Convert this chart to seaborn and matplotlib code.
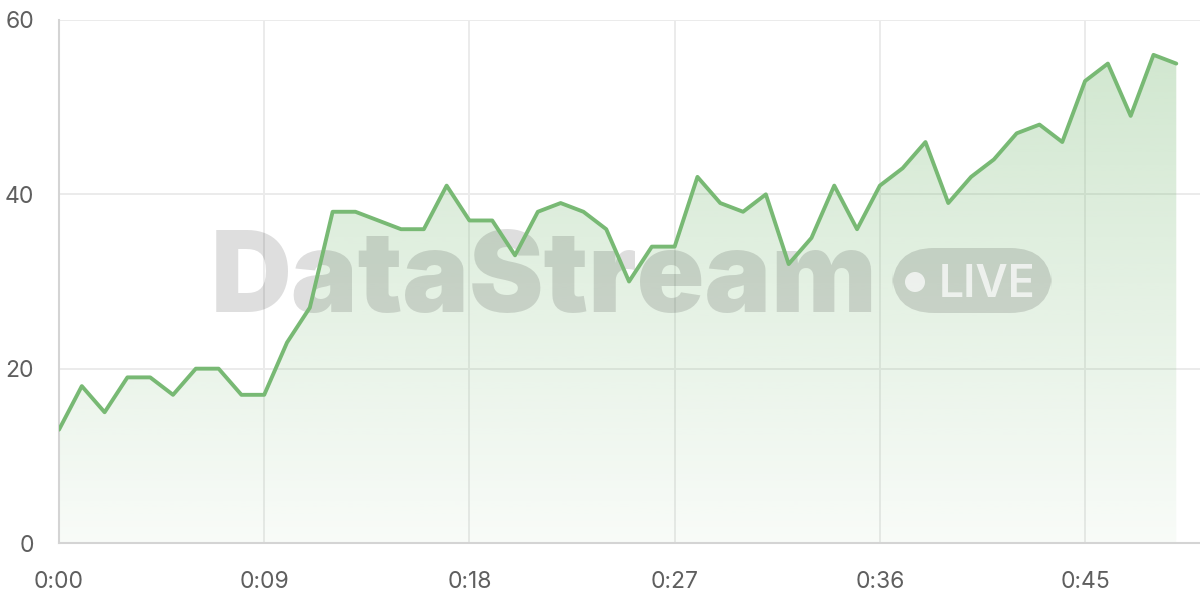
import numpy as np
import pandas as pd
import matplotlib
matplotlib.use("Agg")
import matplotlib.pyplot as plt
from matplotlib.patches import FancyBboxPatch, Circle
import seaborn as sns

# data: one reading per second
seconds = list(range(50))
values = [13, 18, 15, 19, 19, 17, 20, 20, 17, 17,
          23, 27, 38, 38, 37, 36, 36, 41, 37, 37,
          33, 38, 39, 38, 36, 30, 34, 34, 42, 39,
          38, 40, 32, 35, 41, 36, 41, 43, 46, 39,
          42, 44, 47, 48, 46, 53, 55, 49, 56, 55]
x_ticks = [0, 9, 18, 27, 36, 45]
x_tick_labels = ["0:00", "0:09", "0:18", "0:27", "0:36", "0:45"]
y_ticks = [0, 20, 40, 60]

line_color = "#78b974"
grid_color = "#ebebeb"
spine_color = "#d4d4d4"
text_color = "#5f5f5f"

sns.set_style("white")
plt.rcParams["font.family"] = ["Inter", "DejaVu Sans"]

df = pd.DataFrame({"t": seconds, "v": values})

W, H = 1200, 600
fig = plt.figure(figsize=(12, 6), dpi=100)
ax = fig.add_axes([59 / W, 57 / H, 1141 / W, 523 / H])

ax.set_xlim(0, 50.04)
ax.set_ylim(0, 60)

# gradient fill under the line
fill = ax.fill_between(df["t"], df["v"], 0, color="none", lw=0)
grad = np.linspace(0.05, 0.36, 256).reshape(-1, 1)
rgba = np.zeros((256, 1, 4))
rgba[..., :3] = matplotlib.colors.to_rgb(line_color)
rgba[..., 3] = grad
img = ax.imshow(rgba, extent=[0, 50.04, 0, 60], origin="lower",
                aspect="auto", zorder=1, interpolation="bilinear")
img.set_clip_path(fill.get_paths()[0], transform=ax.transData)

sns.lineplot(data=df, x="t", y="v", ax=ax, color=line_color,
             linewidth=2.8, zorder=4)

# watermark
wm = dict(transform=fig.transFigure, zorder=3, clip_on=False)
ax.text(211 / W, 1 - 312 / H, "DataStream", fontsize=80.5, fontweight="black",
        color="black", alpha=0.13, ha="left", va="baseline", **wm)
badge = FancyBboxPatch((892 / W, 1 - 313 / H), 160 / W, 65 / H,
                       boxstyle="round,pad=0,rounding_size=0.035",
                       transform=fig.transFigure, facecolor="black",
                       alpha=0.13, edgecolor="none", zorder=3, clip_on=False,
                       mutation_aspect=2.0)
ax.add_artist(badge)
ax.add_artist(Circle((915, H - 282), 10, transform=None, facecolor="white",
                     alpha=0.7, edgecolor="none", zorder=3, clip_on=False))
ax.text(939 / W, 1 - 297 / H, "LIVE", fontsize=32, fontweight="semibold",
        color="white", alpha=0.7, ha="left", va="baseline", **wm)

ax.set_xticks(x_ticks)
ax.set_xticklabels(x_tick_labels)
ax.set_yticks(y_ticks)
ax.grid(True, color=grid_color, linewidth=1.4, zorder=0)
ax.set_axisbelow(True)
ax.tick_params(axis="both", colors=grid_color, length=11, width=1.4,
               labelcolor=text_color, labelsize=16.5)
ax.tick_params(axis="x", pad=9)
ax.tick_params(axis="y", pad=7)
ax.set_xlabel("")
ax.set_ylabel("")

for side in ["top", "right"]:
    ax.spines[side].set_visible(False)
for side in ["left", "bottom"]:
    ax.spines[side].set_color(spine_color)
    ax.spines[side].set_linewidth(1.5)

fig.savefig("out.png", dpi=100)
